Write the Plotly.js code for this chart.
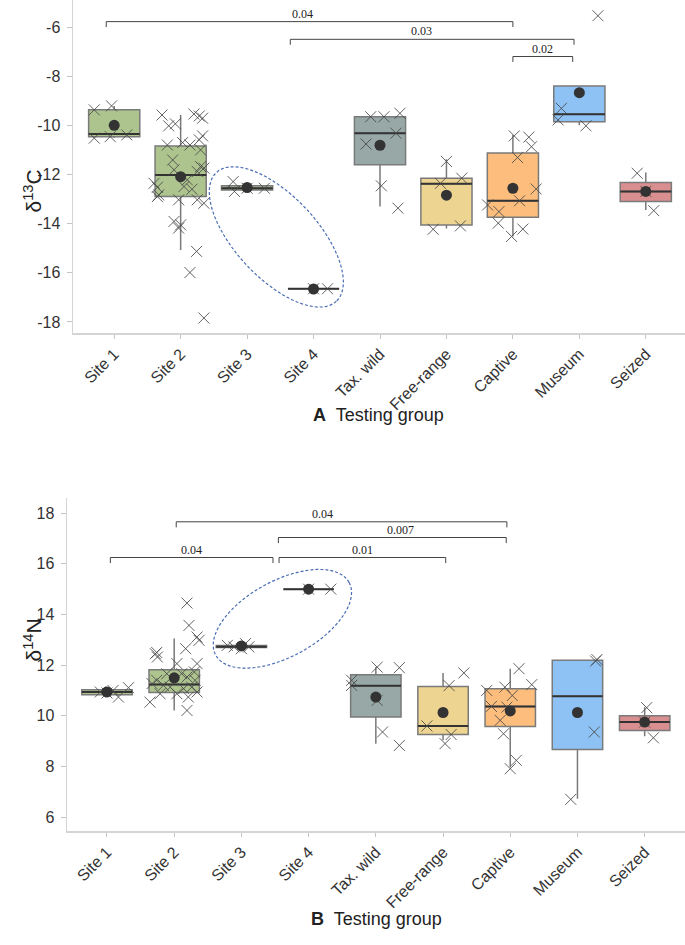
<!DOCTYPE html>
<html>
<head>
<meta charset="utf-8">
<script src="https://cdn.plot.ly/plotly-3.0.1.min.js"></script>
<style>
html, body { margin: 0; padding: 0; background: #fff; }
#chart { width: 685px; height: 945px; }
</style>
</head>
<body>
<div id="chart"></div>
<script>
// testing groups, same for both panels
const groups = ['Site 1', 'Site 2', 'Site 3', 'Site 4', 'Tax. wild', 'Free-range', 'Captive', 'Museum', 'Seized'];

// panel A: d13C box stats
const cQ1   = [-10.46, -12.90, -12.63, -16.65, -11.60, -14.06, -13.74, -9.85, -13.10];
const cMed  = [-10.35, -12.02, -12.56, -16.65, -10.32, -12.38, -13.07, -9.55, -12.69];
const cQ3   = [-9.37, -10.84, -12.46, -16.65, -9.65, -12.15, -11.13, -8.40, -12.33];
const cLo   = [-10.52, -15.07, -12.63, -16.65, -13.30, -14.20, -14.52, -10.00, -13.44];
const cHi   = [-9.21, -9.58, -12.46, -16.65, -9.65, -11.38, -10.39, -8.40, -11.92];
const cMean = [-10.00, -12.09, -12.53, -16.66, -10.81, -12.84, -12.56, -8.67, -12.69];

// panel A: individual samples
const cPts = [
  [-9.37, -9.21, -10.52, -10.46, -10.39],
  [-9.58, -10.02, -9.94, -9.54, -9.62, -9.71, -10.43, -10.59, -10.80, -10.70, -10.80, -11.00, -11.41, -11.81, -11.74, -11.88,
   -12.22, -12.36, -12.52, -12.49, -12.60, -12.83, -13.03, -13.03, -13.17, -13.91, -14.05, -14.18, -15.13, -15.99, -17.84, -12.90, -11.68],
  [-12.29, -12.69, -12.56, -12.56],
  [-16.65, -16.65],
  [-9.65, -9.65, -9.51, -10.32, -10.76, -12.46, -13.37],
  [-11.47, -12.36, -12.15, -14.23, -14.09],
  [-10.43, -10.48, -10.87, -11.31, -12.59, -13.07, -13.24, -13.51, -13.98, -14.52, -14.22],
  [-9.31, -9.78, -10.02, -5.54],
  [-11.95, -12.69, -13.47]
];
// horizontal jitter of those samples (category units)
const cJit = [
  [-0.30, -0.04, -0.30, -0.06, 0.19],
  [-0.28, -0.18, -0.08, 0.20, 0.28, 0.33, 0.33, 0.28, -0.20, 0.03, 0.14, 0.30, -0.12, -0.10, 0.35, 0.25,
   0.10, -0.40, -0.35, 0.05, 0.17, -0.33, -0.03, 0.25, 0.35, -0.10, 0.00, -0.03, 0.24, 0.14, 0.35, -0.35, 0.30],
  [-0.21, -0.19, 0.00, 0.26],
  [0.00, 0.21],
  [-0.14, 0.06, 0.30, 0.24, -0.21, 0.02, 0.27],
  [0.00, -0.09, 0.23, -0.20, 0.21],
  [0.02, 0.24, 0.28, 0.07, 0.35, 0.10, -0.38, -0.21, -0.22, -0.02, 0.15],
  [-0.27, -0.32, 0.10, 0.28],
  [-0.13, 0.00, 0.12]
];

// panel B: d14N box stats
const nQ1   = [10.83, 10.92, 12.70, 15.00, 9.95, 9.26, 9.58, 8.67, 9.42];
const nMed  = [10.94, 11.24, 12.73, 15.00, 11.19, 9.60, 10.37, 10.77, 9.75];
const nQ3   = [11.03, 11.82, 12.78, 15.00, 11.62, 11.16, 11.07, 12.19, 10.00];
const nLo   = [10.83, 10.21, 12.70, 15.00, 8.90, 9.03, 7.97, 6.72, 9.19];
const nHi   = [11.03, 13.05, 12.78, 15.00, 11.92, 11.69, 11.86, 12.19, 10.34];
const nMean = [10.94, 11.50, 12.76, 15.00, 10.74, 10.13, 10.19, 10.13, 9.75];

const nPts = [
  [10.94, 10.74, 11.11, 11.00, 10.90],
  [12.45, 12.50, 10.54, 14.45, 13.57, 12.65, 13.11, 12.98, 12.06, 12.06, 10.21, 11.53, 11.40, 11.20, 11.13, 10.87,
   11.07, 11.13, 10.94, 10.74, 10.87, 11.66, 11.66, 11.40, 11.27, 12.32, 11.73],
  [12.78, 12.72, 12.85, 12.72, 12.65],
  [15.00, 15.00],
  [11.92, 11.90, 11.40, 11.20, 10.61, 9.36, 8.83],
  [11.69, 11.19, 9.60, 9.26, 8.90],
  [11.86, 11.23, 11.00, 11.13, 10.80, 10.37, 10.34, 9.82, 9.29, 8.24, 7.91],
  [12.22, 12.16, 9.36, 6.70],
  [10.32, 9.75, 9.13]
];
const nJit = [
  [-0.10, 0.17, 0.32, 0.09, 0.00],
  [-0.28, -0.26, -0.36, 0.19, 0.22, 0.17, 0.34, 0.37, 0.34, 0.04, 0.19, 0.19, -0.26, -0.16, -0.06, 0.04,
   0.14, 0.26, 0.34, 0.21, -0.21, 0.11, -0.11, 0.31, -0.33, -0.25, 0.30],
  [-0.21, -0.11, 0.06, 0.11, 0.00],
  [0.00, 0.33],
  [0.02, 0.35, -0.36, -0.36, 0.02, 0.10, 0.35],
  [0.31, 0.09, -0.24, 0.12, 0.03],
  [0.13, 0.32, -0.35, -0.08, 0.03, -0.28, -0.05, -0.15, -0.10, 0.09, 0.00],
  [0.29, 0.27, 0.25, -0.10],
  [0.03, 0.00, 0.13]
];

// significance brackets: [from, to, level, p-value, label position]
const cBrackets = [[-0.12, 6.00, -5.78, '0.04', 2.84], [2.65, 6.92, -6.50, '0.03', 4.63], [6.00, 6.90, -7.20, '0.02', 6.45]];
const nBrackets = [[0.05, 2.47, 16.25, '0.04', 1.26], [1.03, 5.95, 17.66, '0.04', 3.20],
                   [2.55, 5.94, 17.04, '0.007', 4.36], [2.56, 5.04, 16.25, '0.01', 3.80]];

const cTicks = [-18, -16, -14, -12, -10, -8, -6];
const nTicks = [6, 8, 10, 12, 14, 16, 18];

const fills = ['#adc48f', '#adc48f', '#adc48f', '#adc48f', '#97a8a6', '#edd491', '#fdbe7d', '#8ec2f4', '#d98f8f'];

const W = 685, H = 945;
const idx = groups.map((g, i) => i);

// panel geometry (px)
const panA = {xd: [73 / W, 1], yd: [1 - 333 / H, 1], xr: [-0.62, 8.59], yr: [-18.45, -4.9], bw: 0.77};
const panB = {xd: [67 / W, 1], yd: [1 - 831 / H, 1 - 498 / H], xr: [-0.595, 8.6], yr: [5.45, 18.6], bw: 0.75};

function pxScale(p) {
    return {
        x: W * (p.xd[1] - p.xd[0]) / (p.xr[1] - p.xr[0]),
        y: H * (p.yd[1] - p.yd[0]) / (p.yr[1] - p.yr[0])
    };
}

function panelTraces(q1, med, q3, lo, hi, mean, pts, jit, p, xa, ya) {
    let out = [];
    idx.forEach(i => {
        out.push({
            type: 'box', orientation: 'v', x: [i],
            q1: [q1[i]], median: [med[i]], q3: [q3[i]],
            lowerfence: [lo[i]], upperfence: [hi[i]],
            width: p.bw, whiskerwidth: 0, boxpoints: false,
            fillcolor: fills[i],
            line: {color: '#7a7a7a', width: 1.5},
            xaxis: xa, yaxis: ya, hoverinfo: 'skip'
        });
    });
    // darker median bars
    let mx = [], my = [];
    idx.forEach(i => {
        mx.push(i - p.bw / 2, i + p.bw / 2, null);
        my.push(med[i], med[i], null);
    });
    out.push({type: 'scatter', mode: 'lines', x: mx, y: my, line: {color: '#333', width: 2},
              xaxis: xa, yaxis: ya, hoverinfo: 'skip'});
    // samples as crosses
    let px = [], py = [];
    idx.forEach(i => {
        pts[i].forEach((v, k) => { px.push(i + jit[i][k]); py.push(v); });
    });
    out.push({type: 'scatter', mode: 'markers', x: px, y: py,
              marker: {symbol: 'x-thin', size: 11, line: {width: 1, color: 'rgba(70,70,70,0.85)'}},
              xaxis: xa, yaxis: ya, hoverinfo: 'skip'});
    // group means
    out.push({type: 'scatter', mode: 'markers', x: idx, y: mean,
              marker: {symbol: 'circle', size: 11, color: '#333'},
              xaxis: xa, yaxis: ya, hoverinfo: 'skip'});
    return out;
}

function bracketShapes(list, tick, xa, ya) {
    return list.map(b => ({
        type: 'path', xref: xa, yref: ya,
        path: `M${b[0]},${b[2] - tick} L${b[0]},${b[2]} L${b[1]},${b[2]} L${b[1]},${b[2] - tick}`,
        line: {color: '#444', width: 1}
    }));
}
function bracketLabels(list, xa, ya) {
    return list.map(b => ({
        xref: xa, yref: ya, x: b[4], y: b[2], yshift: 8, text: b[3], showarrow: false,
        font: {family: 'Liberation Serif, Times New Roman, serif', size: 12, color: '#222'}
    }));
}

// rotated dashed ellipse, sizes in px, centre in data units
function ellipse(cx, cy, a, b, deg, p, xa, ya) {
    const s = pxScale(p), th = deg * Math.PI / 180;
    let d = '';
    for (let k = 0; k <= 72; k++) {
        const t = k / 72 * 2 * Math.PI;
        const ox = a * Math.cos(t) * Math.cos(th) - b * Math.sin(t) * Math.sin(th);
        const oy = a * Math.cos(t) * Math.sin(th) + b * Math.sin(t) * Math.cos(th);
        d += (k ? ' L' : 'M') + (cx + ox / s.x).toFixed(4) + ',' + (cy - oy / s.y).toFixed(4);
    }
    return {type: 'path', xref: xa, yref: ya, path: d + ' Z',
            line: {color: '#4a6db3', width: 1.2, dash: '3px,2px'}};
}

const tickFont = {family: 'Liberation Sans, Arial, sans-serif', size: 16, color: '#333'};
function xAxis(p, anchor) {
    return {
        domain: p.xd, range: p.xr, anchor: anchor,
        tickvals: idx, ticktext: groups, tickangle: -45, tickfont: tickFont,
        showline: true, linecolor: '#d4d4d4', linewidth: 1.5,
        ticks: 'outside', ticklen: 4, tickcolor: '#c4c4c4',
        showgrid: false, zeroline: false, fixedrange: true
    };
}
function yAxis(p, anchor, tv) {
    return {
        domain: p.yd, range: p.yr, anchor: anchor,
        tickvals: tv, ticktext: tv.map(String), tickfont: tickFont, ticklabelstandoff: 3,
        showline: true, linecolor: '#d4d4d4', linewidth: 1.5,
        ticks: 'outside', ticklen: 5, tickcolor: '#c4c4c4',
        showgrid: false, zeroline: false, fixedrange: true
    };
}

const data = panelTraces(cQ1, cMed, cQ3, cLo, cHi, cMean, cPts, cJit, panA, 'x', 'y')
    .concat(panelTraces(nQ1, nMed, nQ3, nLo, nHi, nMean, nPts, nJit, panB, 'x2', 'y2'));

const titleFont = {family: 'Liberation Sans, Arial, sans-serif', size: 18, color: '#222'};
const layout = {
    width: W, height: H,
    margin: {l: 0, r: 0, t: 0, b: 0},
    paper_bgcolor: '#fff', plot_bgcolor: '#fff',
    showlegend: false, boxmode: 'overlay',
    xaxis: xAxis(panA, 'y'), yaxis: yAxis(panA, 'x', cTicks),
    xaxis2: xAxis(panB, 'y2'), yaxis2: yAxis(panB, 'x2', nTicks),
    shapes: bracketShapes(cBrackets, 0.22, 'x', 'y')
        .concat(bracketShapes(nBrackets, 0.22, 'x2', 'y2'))
        .concat([ellipse(2.44, -14.54, 88, 41, 47, panA, 'x', 'y'),
                 ellipse(2.61, 13.83, 76, 38, -28.6, panB, 'x2', 'y2')]),
    annotations: bracketLabels(cBrackets, 'x', 'y')
        .concat(bracketLabels(nBrackets, 'x2', 'y2'))
        .concat([
            {xref: 'paper', yref: 'paper', x: 17 / W, y: 1 - 168 / H, textangle: -90, showarrow: false,
             text: 'δ<sup>13</sup>C', font: {family: 'Liberation Sans, Arial, sans-serif', size: 21, color: '#222'}},
            {xref: 'paper', yref: 'paper', x: 17 / W, y: 1 - 664 / H, textangle: -90, showarrow: false,
             text: 'δ<sup>14</sup>N', font: {family: 'Liberation Sans, Arial, sans-serif', size: 21, color: '#222'}},
            {xref: 'paper', yref: 'paper', x: 379 / W, y: 1 - 415 / H, showarrow: false,
             text: '<b>A</b>&nbsp; Testing group', font: titleFont},
            {xref: 'paper', yref: 'paper', x: 376 / W, y: 1 - 931 / H, showarrow: false,
             text: '<b>B</b>&nbsp; Testing group', font: titleFont}
        ])
};

Plotly.newPlot('chart', data, layout, {displayModeBar: false, staticPlot: true});
</script>
</body>
</html>
